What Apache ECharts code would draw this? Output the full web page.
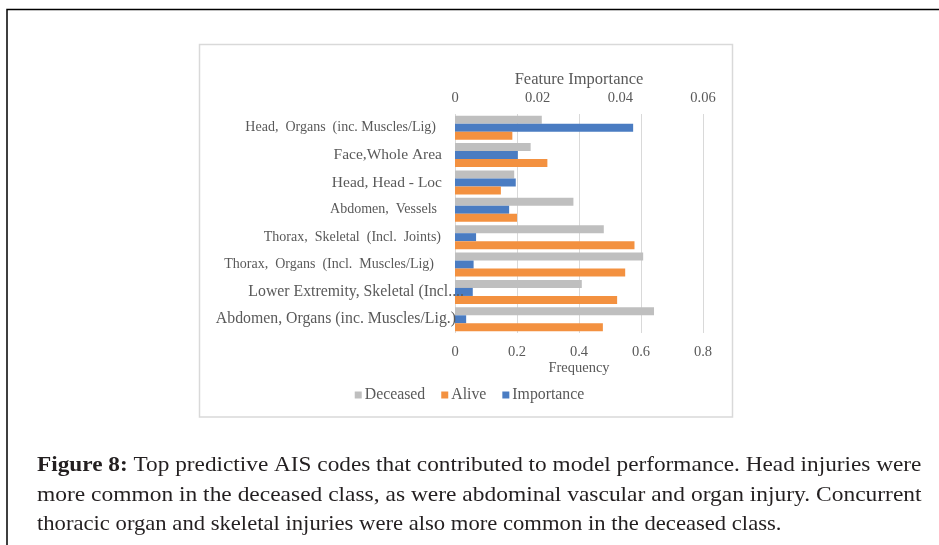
<!DOCTYPE html>
<html><head><meta charset="utf-8">
<script src="https://cdn.jsdelivr.net/npm/echarts@6/dist/echarts.min.js"></script>
<style>html,body{margin:0;padding:0;background:#fff;} #c{width:939px;height:545px;}</style>
</head><body><div id="c"></div>
<script>
const categories = [
  "Head,  Organs  (inc. Muscles/Lig)",
  "Face,Whole Area",
  "Head, Head - Loc",
  "Abdomen,  Vessels",
  "Thorax,  Skeletal  (Incl.  Joints)",
  "Thorax,  Organs  (Incl.  Muscles/Lig)",
  "Lower Extremity, Skeletal (Incl....",
  "Abdomen, Organs (inc. Muscles/Lig.)"
];
const deceased   = [0.280, 0.244, 0.191, 0.382, 0.480, 0.607, 0.409, 0.642];
const alive      = [0.185, 0.298, 0.148, 0.200, 0.579, 0.549, 0.523, 0.477];
const importance = [0.0431, 0.0152, 0.0147, 0.0131, 0.0051, 0.0045, 0.0043, 0.0027];
const seriesNames = ["Deceased", "Alive", "Importance"];
const captionLines = [
  ["Figure 8:", " Top predictive AIS codes that contributed to model performance. Head injuries were"],
  ["", "more common in the deceased class, as were abdominal vascular and organ injury. Concurrent"],
  ["", "thoracic organ and skeletal injuries were also more common in the deceased class."]
];

// layout / style only
const labelPad = [28, 22, 22, 27, 23, 30, 0, 8];
const labelSize = [14, 15.5, 15.5, 14, 14, 14, 15.8, 15.8];
const captionScale = [1.108, 1.117, 1.078];
const serif = "'Liberation Serif', 'DejaVu Serif', serif";
const rich = {};
labelPad.forEach((p, i) => { rich['p' + i] = { padding: [0, p, 0, 0], fontFamily: serif, fontSize: labelSize[i], color: '#595959' }; });

const chart = echarts.init(document.getElementById('c'), null, { renderer: 'canvas' });
const captionGraphics = captionLines.map((ln, i) => ({
  type: 'text', x: 37, y: 455 + i * 29.5, scaleX: captionScale[i], originX: 0, originY: 0,
  style: {
    text: (ln[0] ? '{b|' + ln[0] + '}' : '') + '{n|' + ln[1] + '}',
    rich: {
      b: { fontFamily: serif, fontSize: 21, fontWeight: 'bold', fill: '#231f20' },
      n: { fontFamily: serif, fontSize: 21, fill: '#231f20' }
    }
  }
}));

chart.setOption({
  animation: false,
  backgroundColor: '#ffffff',
  graphic: [
    { type: 'polyline', shape: { points: [[7, 545], [7, 9.5], [939, 9.5]] }, style: { stroke: '#000', lineWidth: 1.5, fill: null } },
    { type: 'rect', shape: { x: 199.5, y: 44.5, width: 533, height: 372.5 }, style: { stroke: '#d9d9d9', lineWidth: 1.5, fill: null } }
  ].concat(captionGraphics),
  legend: {
    data: seriesNames,
    left: 'center', top: 382,
    itemWidth: 7, itemHeight: 7, itemGap: 16,
    icon: 'rect',
    textStyle: { fontFamily: serif, fontSize: 15.8, color: '#595959', padding: [0, 0, 0, -2] }
  },
  grid: { left: 455, width: 248, top: 114, height: 219, containLabel: false },
  xAxis: [
    {
      type: 'value', position: 'bottom', min: 0, max: 0.8, interval: 0.2,
      name: 'Frequency', nameLocation: 'middle', nameGap: 27,
      nameTextStyle: { fontFamily: serif, fontSize: 14.5, color: '#595959' },
      axisLine: { show: false }, axisTick: { show: false },
      axisLabel: { margin: 11.5, fontFamily: serif, fontSize: 14.5, color: '#595959' },
      splitLine: { show: true, lineStyle: { color: '#d9d9d9', width: 1 } }
    },
    {
      type: 'value', position: 'top', min: 0, max: 0.06, interval: 0.02,
      name: 'Feature Importance', nameLocation: 'middle', nameGap: 26,
      nameTextStyle: { fontFamily: serif, fontSize: 16.5, color: '#595959' },
      axisLine: { show: false }, axisTick: { show: false },
      axisLabel: { margin: 8, fontFamily: serif, fontSize: 14.5, color: '#595959' },
      splitLine: { show: false }
    }
  ],
  yAxis: {
    type: 'category', inverse: true, data: categories, z: 5,
    axisLine: { show: false }, axisTick: { show: false },
    axisLabel: {
      margin: -9, fontFamily: serif, fontSize: 14, color: '#595959',
      formatter: (v, i) => '{p' + i + '|' + v + '}', rich: rich
    }
  },
  series: [
    { name: 'Deceased', type: 'bar', xAxisIndex: 0, data: deceased, barWidth: 8, barGap: '0%', itemStyle: { color: '#bfbfbf' } },
    { name: 'Importance', type: 'bar', xAxisIndex: 1, data: importance, barWidth: 8, barGap: '0%', itemStyle: { color: '#4a7cc2' } },
    { name: 'Alive', type: 'bar', xAxisIndex: 0, data: alive, barWidth: 8, barGap: '0%', itemStyle: { color: '#f39140' } }
  ]
});
</script></body></html>
